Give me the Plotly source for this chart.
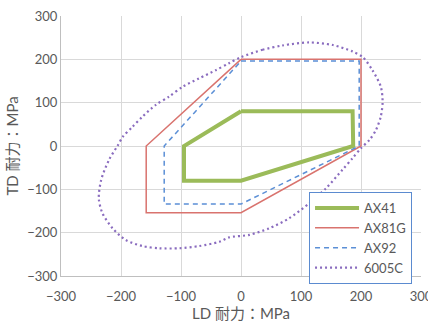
import plotly.graph_objects as go

# AX41 polygon
ax41_x = [0, 186, 187, 0, -95, -95, 0]
ax41_y = [80, 80, 0, -80, -80, 0, 80]

# AX81G polygon
ax81g_x = [0, 200, 200, 0, -158, -158, 0]
ax81g_y = [200, 200, 0, -154, -154, 0, 200]

# AX92 polygon
ax92_x = [0, 197, 197, 0, -128, -128, 0]
ax92_y = [196, 196, 0, -134, -134, 0, 196]

# 6005C curve
c6005_x = [0, 36, 69, 114, 153, 186, 203, 219, 233, 236, 233, 225, 214, 200, 186, 169, 142, 114, 80, 47, 14,
           -20, -36, -70, -103, -136, -164, -192, -214, -231, -237, -233, -220, -206, -197, -181, -164, -142,
           -120, -97, -70, -42, -20, 0]
c6005_y = [205, 222, 232, 239, 233, 218, 205, 175, 137, 102, 68, 37, 14, -5, -28, -55, -97, -132, -167, -190, -205,
           -211, -221, -231, -236, -236, -231, -217, -190, -155, -121, -78, -32, 0, 21, 44, 68, 95,
           114, 137, 156, 175, 191, 205]

axis_ticks = [-300, -200, -100, 0, 100, 200, 300]

FONT = "Lato, 'Noto Sans CJK JP', sans-serif"
TXT = "#595959"

fig = go.Figure()
fig.add_trace(go.Scatter(x=ax41_x, y=ax41_y, mode="lines", name="AX41",
                         line=dict(color="#9bbb59", width=4)))
fig.add_trace(go.Scatter(x=ax81g_x, y=ax81g_y, mode="lines", name="AX81G",
                         line=dict(color="#d9736e", width=1.5)))
fig.add_trace(go.Scatter(x=ax92_x, y=ax92_y, mode="lines", name="AX92",
                         line=dict(color="#5b8fd6", width=1.5, dash="5px,4px")))
fig.add_trace(go.Scatter(x=c6005_x, y=c6005_y, mode="lines", name="6005C",
                         line=dict(color="#8a6cbf", width=2.2, dash="2px,3px", shape="spline", smoothing=0.8)))

fig.update_layout(
    width=428, height=323,
    margin=dict(l=61, r=7, t=16, b=47, autoexpand=False),
    paper_bgcolor="white", plot_bgcolor="white",
    font=dict(family=FONT, size=13, color=TXT),
    showlegend=True,
    legend=dict(x=0.689, y=0.323, xanchor="left", yanchor="top",
                bgcolor="white", bordercolor="#5b8bd0", borderwidth=1,
                font=dict(size=13, color=TXT), tracegroupgap=0,
                itemwidth=44),
)
fig.update_xaxes(range=[-300, 300], tickvals=axis_ticks, showgrid=True, gridcolor="#d9d9d9",
                 zeroline=False, showline=True, linecolor="#bfbfbf", linewidth=1, ticks="",
                 automargin=False, ticklabelstandoff=8, ticklabeloverflow="allow",
                 title=dict(text="LD 耐力：MPa", font=dict(size=15, color=TXT), standoff=5),
                 tickfont=dict(size=13, color=TXT))
fig.update_yaxes(range=[-300, 300], tickvals=axis_ticks, showgrid=True, gridcolor="#d9d9d9",
                 zeroline=False, showline=True, linecolor="#bfbfbf", linewidth=1, ticks="",
                 automargin=False, ticklabelstandoff=0, ticklabeloverflow="allow",
                 title=dict(text="TD 耐力：MPa", font=dict(size=15, color=TXT), standoff=4),
                 tickfont=dict(size=13, color=TXT))

fig.write_html("out.html", config={"displayModeBar": False},
               post_script="document.body.style.margin='0';")
